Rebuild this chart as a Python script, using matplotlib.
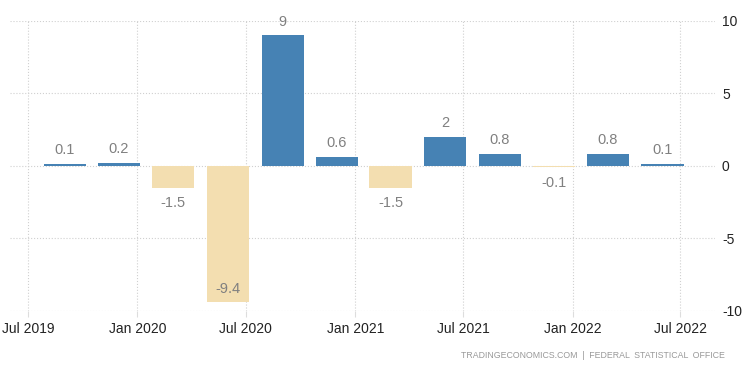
import matplotlib.pyplot as plt
import matplotlib.dates as mdates
import numpy as np
import pandas as pd

plt.rcParams['axes.unicode_minus'] = False
plt.rcParams['font.family'] = ['Liberation Sans', 'DejaVu Sans']

# Data (quarterly GDP growth, %)
quarters = ['2019-09-01', '2019-12-01', '2020-03-01', '2020-06-01', '2020-09-01', '2020-12-01',
            '2021-03-01', '2021-06-01', '2021-09-01', '2021-12-01', '2022-03-01', '2022-06-01']
values = [0.1, 0.2, -1.5, -9.4, 9, 0.6, -1.5, 2, 0.8, -0.1, 0.8, 0.1]
labels = ['0.1', '0.2', '-1.5', '-9.4', '9', '0.6', '-1.5', '2', '0.8', '-0.1', '0.8', '0.1']
tick_dates = ['2019-07-01', '2020-01-01', '2020-07-01', '2021-01-01', '2021-07-01', '2022-01-01', '2022-07-01']
tick_labels = ['Jul 2019', 'Jan 2020', 'Jul 2020', 'Jan 2021', 'Jul 2021', 'Jan 2022', 'Jul 2022']
y_ticks = [-10, -5, 0, 5, 10]

x = mdates.date2num(pd.to_datetime(quarters))
pos_color = '#4682b4'
neg_color = '#f3deb0'
colors = [pos_color if v >= 0 else neg_color for v in values]

fig = plt.figure(figsize=(7.5, 3.73), dpi=100)
ax = fig.add_axes([10 / 750, 62.3 / 373, 705 / 750, 289.7 / 373])

ax.bar(x, values, width=71, color=colors, zorder=3)

for xi, v, lab in zip(x, values, labels):
    if v >= 0:
        ax.annotate(lab, (xi, v), xytext=(0, 5), textcoords='offset points',
                    ha='center', va='bottom', fontsize=10.5, color='#808080', clip_on=False)
    elif v < -8:
        ax.annotate(lab, (xi, v), xytext=(0, 4), textcoords='offset points',
                    ha='center', va='bottom', fontsize=10.5, color='#808080')
    else:
        ax.annotate(lab, (xi, v), xytext=(0, -6), textcoords='offset points',
                    ha='center', va='top', fontsize=10.5, color='#808080')

ax.set_ylim(-10, 10)
ax.set_xlim(mdates.date2num(pd.Timestamp('2019-06-01')), mdates.date2num(pd.Timestamp('2022-08-28')))

ax.set_xticks(mdates.date2num(pd.to_datetime(tick_dates)))
ax.set_xticklabels(tick_labels)
ax.set_yticks(y_ticks)
ax.yaxis.tick_right()

ax.tick_params(axis='x', length=4, color='#dddddd', labelsize=10, labelcolor='#222222', pad=4)
ax.tick_params(axis='y', length=0, labelsize=10, labelcolor='#222222', pad=5)

ax.grid(True, color='#d0d0d0', linestyle=':', linewidth=0.8, zorder=0)
for s in ax.spines.values():
    s.set_visible(False)

fig.text(725 / 750, 1 - 356 / 373, 'TRADINGECONOMICS.COM  |  FEDERAL  STATISTICAL  OFFICE',
         ha='right', va='center', fontsize=6.3, color='#999999')

fig.savefig('out.png', dpi=100)
